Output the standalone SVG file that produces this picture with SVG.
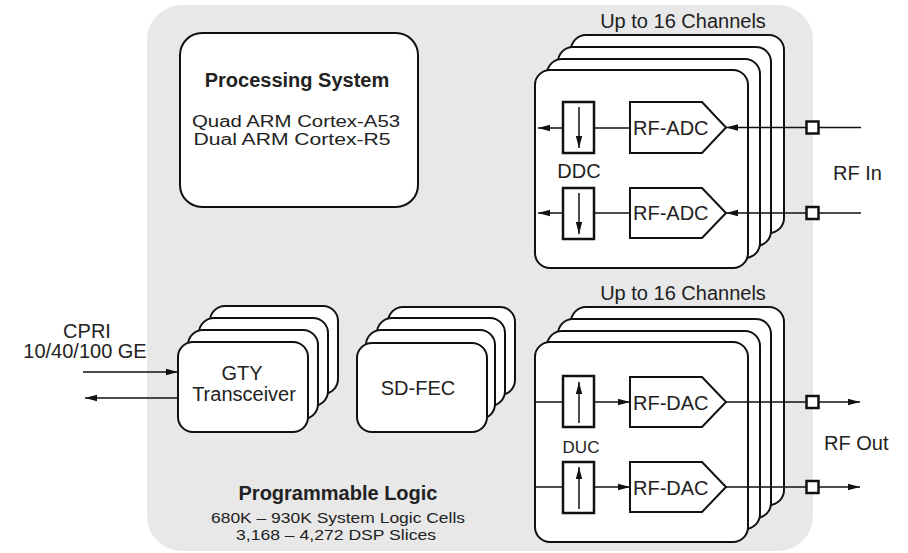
<svg xmlns="http://www.w3.org/2000/svg" width="908" height="553" viewBox="0 0 908 553">
<style>
  .box{fill:#fff;stroke:#111;stroke-width:2}
  .blk{fill:#fff;stroke:#111;stroke-width:2.5}
  .ln{fill:none;stroke:#111;stroke-width:1.5}
  .t{font-family:"Liberation Sans",Arial,sans-serif;fill:#222;font-size:20px}
  .b{font-weight:bold}
  .s{font-size:15px}
  .m{font-size:16px}
  .c{text-anchor:middle}
</style>
<defs>
  <marker id="ah" markerWidth="12" markerHeight="8" refX="12" refY="4" orient="auto" markerUnits="userSpaceOnUse">
    <path d="M0,0.8 L12,4 L0,7.2 z" fill="#111"/>
  </marker>
</defs>
<rect width="908" height="553" fill="#fff"/>
<g id="programmable-logic">
  <rect x="147" y="5" width="666" height="546" rx="35" fill="#e8e8e8"/>
  <text class="t b c" x="338" y="500">Programmable Logic</text>
  <text class="t s c" x="338" y="523" textLength="254" lengthAdjust="spacingAndGlyphs">680K – 930K System Logic Cells</text>
  <text class="t s c" x="336" y="540" textLength="200" lengthAdjust="spacingAndGlyphs">3,168 – 4,272 DSP Slices</text>
</g>
<g id="processing-system">
  <rect class="box" x="180" y="33" width="238" height="174" rx="22"/>
  <text class="t b c" x="297" y="87">Processing System</text>
  <text class="t m c" x="296" y="127" textLength="208" lengthAdjust="spacingAndGlyphs">Quad ARM Cortex-A53</text>
  <text class="t m c" x="292" y="145" textLength="197" lengthAdjust="spacingAndGlyphs">Dual ARM Cortex-R5</text>
</g>
<g id="gty">
  <rect class="box" x="210" y="306" width="128" height="88" rx="15"/>
  <rect class="box" x="199" y="318" width="129" height="88" rx="15"/>
  <rect class="box" x="188" y="330" width="130" height="89" rx="15"/>
  <rect class="box" x="178" y="342" width="130" height="90" rx="15"/>
  <text class="t c" x="242" y="380">GTY</text>
  <text class="t c" x="244" y="401">Transceiver</text>
</g>
<g id="cpri-label">
  <text class="t c" x="87" y="338">CPRI</text>
  <text class="t c" x="85" y="358">10/40/100 GE</text>
</g>
<g id="sd-fec">
  <rect class="box" x="388" y="307" width="127" height="88" rx="15"/>
  <rect class="box" x="377" y="318" width="128" height="88" rx="15"/>
  <rect class="box" x="366" y="330" width="129" height="89" rx="15"/>
  <rect class="box" x="357" y="343" width="130" height="89" rx="15"/>
  <text class="t c" x="418" y="395">SD-FEC</text>
</g>
<g id="adc-channels">
  <text class="t c" x="683" y="28">Up to 16 Channels</text>
  <rect class="box" x="571" y="35" width="213" height="198" rx="15"/>
  <rect class="box" x="558" y="47" width="213" height="199" rx="15"/>
  <rect class="box" x="547" y="59" width="213" height="199" rx="15"/>
  <rect class="box" x="535" y="70" width="213" height="198" rx="15"/>
  <g id="ddc">
    <rect class="blk" x="563" y="102" width="31" height="51"/>
    <rect class="blk" x="563" y="188" width="31" height="51"/>
    <text class="t c" x="579" y="178">DDC</text>
  </g>
  <g id="rf-adc-1">
    <path class="box" d="M630,102 H702 L726,127.5 L702,153 H630 Z"/>
    <text class="t" x="633" y="135">RF-ADC</text>
  </g>
  <g id="rf-adc-2">
    <path class="box" d="M630,188 H702 L726,213 L702,238 H630 Z"/>
    <text class="t" x="633" y="220">RF-ADC</text>
  </g>
  <text class="t" x="833" y="180">RF In</text>
</g>
<g id="dac-channels">
  <text class="t c" x="683" y="300">Up to 16 Channels</text>
  <rect class="box" x="571" y="307" width="213" height="198" rx="15"/>
  <rect class="box" x="558" y="319" width="213" height="199" rx="15"/>
  <rect class="box" x="547" y="331" width="213" height="198" rx="15"/>
  <rect class="box" x="535" y="342" width="213" height="200" rx="15"/>
  <g id="duc">
    <rect class="blk" x="563" y="376" width="31" height="51"/>
    <rect class="blk" x="563" y="462" width="31" height="51"/>
    <text class="t c" x="581" y="453" style="font-size:17px">DUC</text>
  </g>
  <g id="rf-dac-1">
    <path class="box" d="M630,377 H702 L726,402 L702,427 H630 Z"/>
    <text class="t" x="633" y="410">RF-DAC</text>
  </g>
  <g id="rf-dac-2">
    <path class="box" d="M630,462 H702 L726,487 L702,512 H630 Z"/>
    <text class="t" x="633" y="495">RF-DAC</text>
  </g>
  <text class="t" x="824" y="450">RF Out</text>
</g>
<g id="connectors">
  <line class="ln" x1="83" y1="372" x2="178" y2="372" marker-end="url(#ah)"/>
  <line class="ln" x1="178" y1="398" x2="85" y2="398" marker-end="url(#ah)"/>
  <line class="ln" x1="861" y1="127.5" x2="726" y2="127.5" marker-end="url(#ah)"/>
  <line class="ln" x1="630" y1="128" x2="594" y2="128"/>
  <line class="ln" x1="563" y1="128" x2="538" y2="128" marker-end="url(#ah)"/>
  <line class="ln" x1="861" y1="213" x2="726" y2="213" marker-end="url(#ah)"/>
  <line class="ln" x1="630" y1="213" x2="594" y2="213"/>
  <line class="ln" x1="563" y1="213" x2="538" y2="213" marker-end="url(#ah)"/>
  <line class="ln" x1="579" y1="107" x2="579" y2="148" marker-end="url(#ah)"/>
  <line class="ln" x1="579" y1="193" x2="579" y2="234" marker-end="url(#ah)"/>
  <rect class="blk" x="806.5" y="121.5" width="12" height="12"/>
  <rect class="blk" x="806.5" y="207" width="12" height="12"/>
  <line class="ln" x1="535" y1="402" x2="563" y2="402"/>
  <line class="ln" x1="594" y1="402" x2="630" y2="402" marker-end="url(#ah)"/>
  <line class="ln" x1="726" y1="402" x2="860" y2="402" marker-end="url(#ah)"/>
  <line class="ln" x1="535" y1="487" x2="563" y2="487"/>
  <line class="ln" x1="594" y1="487" x2="630" y2="487" marker-end="url(#ah)"/>
  <line class="ln" x1="726" y1="487" x2="860" y2="487" marker-end="url(#ah)"/>
  <line class="ln" x1="579" y1="423" x2="579" y2="382" marker-end="url(#ah)"/>
  <line class="ln" x1="579" y1="509" x2="579" y2="467" marker-end="url(#ah)"/>
  <rect class="blk" x="806.5" y="396" width="12" height="12"/>
  <rect class="blk" x="806.5" y="481" width="12" height="12"/>
</g>
</svg>
